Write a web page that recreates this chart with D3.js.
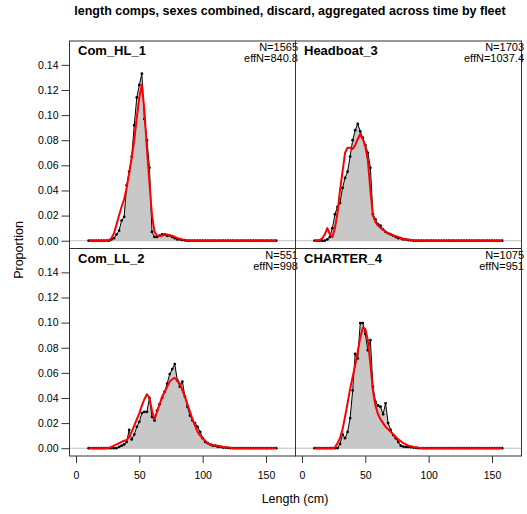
<!DOCTYPE html>
<html><head><meta charset="utf-8">
<script src="https://cdn.jsdelivr.net/npm/d3@7"></script>
<style>
body{margin:0;background:#fff}
svg{display:block}
text{font-family:"Liberation Sans",Arial,sans-serif;fill:#000}
</style>
</head><body>
<svg id="c" width="527" height="514"></svg>
<script>
// ---------- data ----------
const lengthBins = [10,12,14,16,18,20,22,24,26,28,
  30,32,34,36,38,40,42,44,46,48,
  50,52,54,56,58,60,62,64,66,68,
  70,72,74,76,78,80,82,84,86,88,
  90,92,94,96,98,100,102,104,106,108,
  110,112,114,116,118,120,122,124,126,128,
  130,132,134,136,138,140,142,144,146,148,
  150,152,154,156,158];

const fleetNames = ["Com_HL_1","Headboat_3","Com_LL_2","CHARTER_4"];
const sampleN = ["N=1565","N=1703","N=551","N=1075"];
const effectiveN = ["effN=840.8","effN=1037.4","effN=998","effN=951"];

const obsComHL1 = [0,0,0,0,0,0,0,0,0,0.001,
  0.002,0.005,0.008,0.016,0.019,0.044,0.055,0.067,0.092,0.114,
  0.124,0.133,0.097,0.080,0.058,0.007,0.003,0.003,0.004,0.005,
  0.005,0.004,0.004,0.003,0.002,0.001,0.001,0.0005,0.0003,0,
  0,0,0,0,0,0,0,0,0,0,
  0,0,0,0,0,0,0,0,0,0,
  0,0,0,0,0,0,0,0,0,0,
  0,0,0,0,0];
const expComHL1 = [0,0,0,0,0,0,0,0,0.0005,0.002,
  0.006,0.013,0.020,0.027,0.033,0.042,0.054,0.066,0.080,0.098,
  0.114,0.124,0.104,0.073,0.046,0.020,0.007,0.004,0.004,0.004,
  0.005,0.005,0.004,0.004,0.003,0.002,0.0015,0.001,0.0007,0.0004,
  0.0002,0,0,0,0,0,0,0,0,0,
  0,0,0,0,0,0,0,0,0,0,
  0,0,0,0,0,0,0,0,0,0,
  0,0,0,0,0];

const obsHeadboat3 = [0,0,0,0,0,0.001,0.003,0.010,0.021,0.027,
  0.030,0.042,0.050,0.055,0.067,0.080,0.088,0.093,0.087,0.082,
  0.076,0.070,0.058,0.021,0.017,0.013,0.012,0.009,0.007,0.006,
  0.005,0.004,0.003,0.002,0.002,0.001,0.001,0.0005,0.0003,0,
  0,0,0,0,0,0,0,0,0,0,
  0,0,0,0,0,0,0,0,0,0,
  0,0,0,0,0,0,0,0,0,0,
  0,0,0,0,0];
const expHeadboat3 = [0,0,0.0005,0.002,0.005,0.010,0.005,0.003,0.010,0.022,
  0.040,0.055,0.070,0.074,0.074,0.073,0.076,0.081,0.085,0.081,
  0.075,0.064,0.040,0.020,0.015,0.012,0.010,0.009,0.007,0.006,
  0.005,0.004,0.0035,0.003,0.002,0.0015,0.001,0.001,0.0005,0.0003,
  0,0,0,0,0,0,0,0,0,0,
  0,0,0,0,0,0,0,0,0,0,
  0,0,0,0,0,0,0,0,0,0,
  0,0,0,0,0];

const obsComLL2 = [0,0,0,0,0,0,0,0,0,0,
  0,0,0.001,0.002,0.003,0.005,0.0145,0.007,0.011,0.017,
  0.021,0.028,0.029,0.029,0.040,0.025,0.022,0.030,0.035,0.040,
  0.045,0.0515,0.059,0.063,0.067,0.054,0.049,0.053,0.041,0.033,
  0.026,0.022,0.020,0.017,0.013,0.008,0.005,0.004,0.003,0.002,
  0.002,0.001,0.001,0.0005,0.0005,0.0003,0,0,0,0,
  0,0,0,0,0,0,0,0,0,0,
  0,0,0,0,0];
const expComLL2 = [0,0,0,0,0,0,0,0,0.0003,0.001,
  0.002,0.003,0.004,0.005,0.006,0.0065,0.009,0.013,0.018,0.023,
  0.028,0.034,0.039,0.043,0.040,0.030,0.023,0.029,0.035,0.041,
  0.045,0.049,0.053,0.055,0.056,0.054,0.0515,0.046,0.041,0.035,
  0.029,0.023,0.018,0.013,0.010,0.008,0.006,0.004,0.003,0.0025,
  0.002,0.002,0.0015,0.001,0.0008,0.0005,0.0003,0,0,0,
  0,0,0,0,0,0,0,0,0,0,
  0,0,0,0,0];

const obsCharter4 = [0,0,0,0,0,0,0,0,0,0,
  0.0034,0.011,0.008,0.013,0.024,0.046,0.075,0.0714,0.0996,0.0996,
  0.091,0.078,0.086,0.049,0.037,0.034,0.033,0.027,0.0357,0.020,
  0.0145,0.0105,0.008,0.005,0.002,0.0013,0.001,0.001,0.0008,0.0005,
  0.0003,0,0,0,0,0,0,0,0,0,
  0,0,0,0,0,0,0,0,0,0,
  0,0,0,0,0,0,0,0,0,0,
  0,0,0,0,0];
const expCharter4 = [0,0,0,0,0,0,0,0,0.0005,0.004,
  0.008,0.015,0.025,0.036,0.047,0.057,0.066,0.077,0.088,0.096,
  0.095,0.086,0.067,0.046,0.034,0.027,0.023,0.020,0.017,0.015,
  0.013,0.011,0.009,0.007,0.0055,0.004,0.003,0.002,0.0015,0.001,
  0.0007,0.0004,0.0002,0,0,0,0,0,0,0,
  0,0,0,0,0,0,0,0,0,0,
  0,0,0,0,0,0,0,0,0,0,
  0,0,0,0,0];

const observedSeries = [obsComHL1, obsHeadboat3, obsComLL2, obsCharter4];
const expectedSeries = [expComHL1, expHeadboat3, expComLL2, expCharter4];

const xTickValues = [0,50,100,150];
const yTickValues = [0,0.02,0.04,0.06,0.08,0.10,0.12,0.14];

const titleText = "length comps, sexes combined, discard, aggregated across time by fleet";
const xLabel = "Length (cm)";
const yLabel = "Proportion";

// ---------- layout ----------
const svg = d3.select("#c");
const panelLeft = [69.5, 295.5], panelW = 226;
const panelTop = [41, 248.5], panelH = 207.5;
const xDomain = [-5.13, 173.3];
const yDomain = [-0.0062, 0.159];

fleetNames.forEach((name, i) => {
  const col = i % 2, row = Math.floor(i / 2);
  const x0 = panelLeft[col], y0 = panelTop[row];
  const x = d3.scaleLinear().domain(xDomain).range([x0, x0 + panelW]);
  const y = d3.scaleLinear().domain(yDomain).range([y0 + panelH, y0]);
  const g = svg.append("g");
  const obs = observedSeries[i], ex = expectedSeries[i];
  const pts = lengthBins.map((b, k) => ({b, o: obs[k], e: ex[k]}));

  // shaded observed polygon
  g.append("path").datum(pts)
    .attr("d", d3.area().x(d => x(d.b)).y0(y(0)).y1(d => y(d.o)))
    .attr("fill", "#c8c8c8").attr("stroke", "none");
  // zero line
  g.append("line").attr("x1", x0).attr("x2", x0 + panelW)
    .attr("y1", y(0)).attr("y2", y(0))
    .attr("stroke", "#c0c0c0").attr("stroke-width", 1);
  // observed line + points
  g.append("path").datum(pts)
    .attr("d", d3.line().x(d => x(d.b)).y(d => y(d.o)))
    .attr("fill", "none").attr("stroke", "#000").attr("stroke-width", 1);
  g.selectAll("circle").data(pts).join("circle")
    .attr("cx", d => x(d.b)).attr("cy", d => y(d.o)).attr("r", 1.4)
    .attr("fill", "#000");
  // expected line
  g.append("path").datum(pts)
    .attr("d", d3.line().x(d => x(d.b)).y(d => y(d.e)))
    .attr("fill", "none").attr("stroke", "#ff0000").attr("stroke-width", 2)
    .attr("stroke-linejoin", "round");

  // box
  g.append("rect").attr("x", x0).attr("y", y0).attr("width", panelW).attr("height", panelH)
    .attr("fill", "none").attr("stroke", "#333").attr("stroke-width", 1);

  // labels
  g.append("text").attr("x", x0 + 8.5).attr("y", y0 + 14)
    .attr("font-size", "13px").attr("font-weight", "bold").text(name);
  g.append("text").attr("x", x0 + panelW + 2.5).attr("y", y0 + 10)
    .attr("font-size", "11px").attr("text-anchor", "end").text(sampleN[i]);
  g.append("text").attr("x", x0 + panelW + 2.5).attr("y", y0 + 21)
    .attr("font-size", "11px").attr("text-anchor", "end").text(effectiveN[i]);

  if (col === 0) {
    const ax = g.append("g").attr("transform", `translate(${x0},0)`)
      .call(d3.axisLeft(y).tickValues(yTickValues).tickFormat(d3.format(".2f"))
        .tickSize(8).tickPadding(3));
    ax.select(".domain").remove();
    ax.selectAll("line").attr("stroke", "#333");
    ax.selectAll("text").attr("font-size", "10.5px").attr("font-family", "Liberation Sans, Arial, sans-serif").attr("fill", "#000");
  }
  if (row === 1) {
    const ax = g.append("g").attr("transform", `translate(0,${y0 + panelH})`)
      .call(d3.axisBottom(x).tickValues(xTickValues).tickSize(7).tickPadding(9));
    ax.select(".domain").remove();
    ax.selectAll("line").attr("stroke", "#333");
    ax.selectAll("text").attr("font-size", "10.5px").attr("font-family", "Liberation Sans, Arial, sans-serif").attr("fill", "#000");
  }
});

svg.append("text").attr("x", 290).attr("y", 15).attr("text-anchor", "middle")
  .attr("font-size", "12.5px").attr("font-weight", "bold").text(titleText);
svg.append("text").attr("x", 295).attr("y", 503).attr("text-anchor", "middle")
  .attr("font-size", "12.5px").text(xLabel);
svg.append("text").attr("transform", "translate(23,250) rotate(-90)").attr("text-anchor", "middle")
  .attr("font-size", "12.5px").text(yLabel);
</script>
</body></html>
